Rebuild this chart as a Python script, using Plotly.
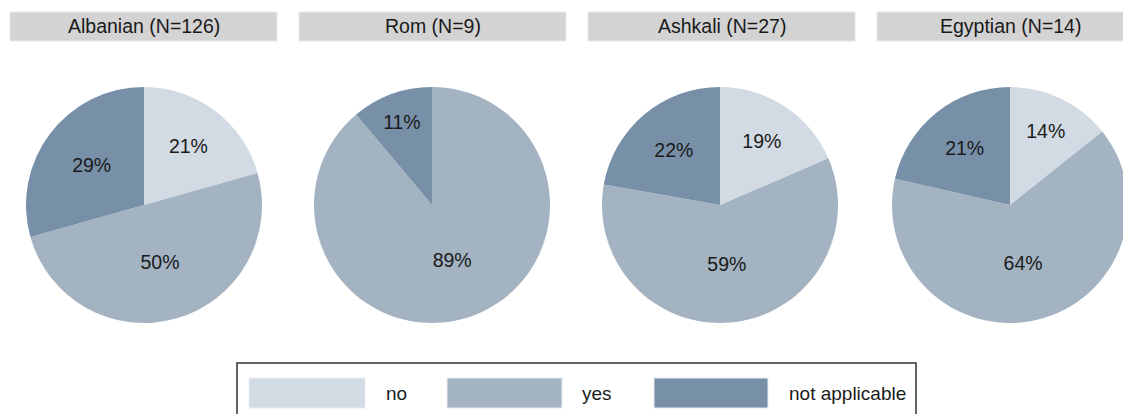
import plotly.graph_objects as go

groups = ["Albanian", "Rom", "Ashkali", "Egyptian"]
group_n = [126, 9, 27, 14]
answers = ["no", "yes", "not applicable"]
counts = {
    "Albanian": [26, 63, 37],
    "Rom": [0, 8, 1],
    "Ashkali": [5, 16, 6],
    "Egyptian": [2, 9, 3],
}
colors = ["#d2dae3", "#a3b3c2", "#7790a8"]

# the page body has an 8px margin, so the figure is placed at (8, 8)
OFF = 8
W, H = 1131 - OFF, 414 - OFF
FONT = "Liberation Sans, Arial, sans-serif"


def px(x):
    return (x - OFF) / W


def py(y):
    return 1 - (y - OFF) / H


centers = [144, 432, 720, 1010]
cy, r = 205, 118

fig = go.Figure()
shapes = []
annotations = []

for i, g in enumerate(groups):
    cx = centers[i]
    fig.add_trace(go.Pie(
        labels=answers,
        values=counts[g],
        marker=dict(colors=colors),
        sort=False,
        direction="clockwise",
        rotation=0,
        texttemplate="%{percent:.0%}",
        textposition="inside",
        insidetextorientation="horizontal",
        textfont=dict(family=FONT, size=19.5, color="#1a1a1a"),
        domain=dict(x=[px(cx - r), px(cx + r)], y=[py(cy + r), py(cy - r)]),
        showlegend=False,
        hoverinfo="label+value+percent",
    ))
    # header strip
    bx0 = 10 + i * 289
    shapes.append(dict(type="rect", xref="paper", yref="paper",
                       x0=px(bx0), x1=px(bx0 + 267), y0=py(41), y1=py(12),
                       fillcolor="#d3d3d3", line=dict(color="#e4eaf0", width=1)))
    annotations.append(dict(xref="paper", yref="paper", x=px(bx0 + 133.5), y=py(26.5),
                            text=f"{g} (N={group_n[i]})", showarrow=False,
                            xanchor="center", yanchor="middle",
                            font=dict(family=FONT, size=19.5, color="#1a1a1a")))

# legend box (bottom edge runs off the page, as in the original)
shapes.append(dict(type="rect", xref="paper", yref="paper",
                   x0=px(237), x1=px(916), y0=py(420), y1=py(363),
                   fillcolor="rgba(0,0,0,0)", line=dict(color="#333333", width=1.5)))
leg_x = [(249, 365, 384), (447, 562, 580), (654, 768, 787)]
for (x0, x1, tx), lab, c in zip(leg_x, answers, colors):
    shapes.append(dict(type="rect", xref="paper", yref="paper",
                       x0=px(x0), x1=px(x1), y0=py(408), y1=py(378),
                       fillcolor=c, line=dict(color="#e8edf2", width=1)))
    annotations.append(dict(xref="paper", yref="paper", x=px(tx), y=py(393),
                            text=lab, showarrow=False, xanchor="left", yanchor="middle",
                            font=dict(family=FONT, size=19, color="#1a1a1a")))

fig.update_layout(
    width=W, height=H,
    margin=dict(l=0, r=0, t=0, b=0),
    paper_bgcolor="white",
    plot_bgcolor="white",
    shapes=shapes,
    annotations=annotations,
)

fig.write_html("out.html")
